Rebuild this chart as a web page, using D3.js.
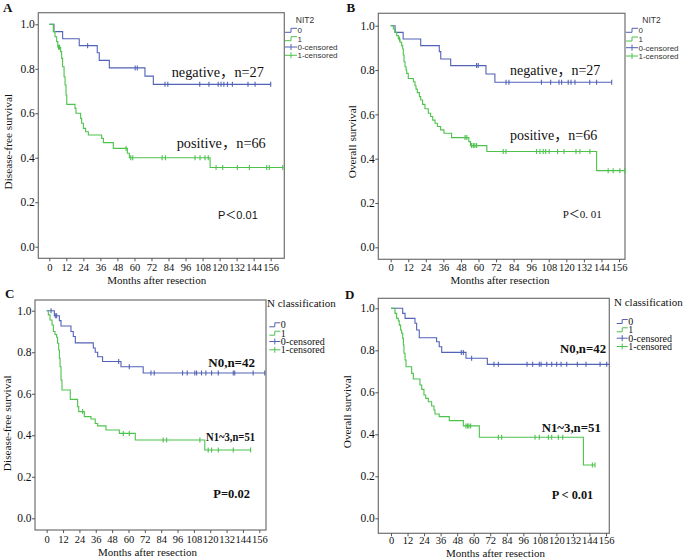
<!DOCTYPE html>
<html><head><meta charset="utf-8">
<script src="https://cdn.jsdelivr.net/npm/d3@7"></script>
<style>body{margin:0;background:#fff}svg{display:block}</style>
</head><body>
<svg id="chart" width="685" height="559"></svg>
<script>
// ---------- shared ticks / labels ----------
const monthTicks = [0,12,24,36,48,60,72,84,96,108,120,132,144,156];
const survivalTicks = [0,0.2,0.4,0.6,0.8,1.0];
const legendLabels = ["0","1","0-censored","1-censored"];

// ---------- Panel A : NIT2, disease-free survival ----------
const aNegMonths = [3.3, 9.4, 21.1, 33.8, 35.2, 42.3, 67.4, 73.3];
const aNegSurv   = [0.967, 0.935, 0.904, 0.872, 0.838, 0.804, 0.767, 0.730];
const aNegCensor = [27, 60.5, 62, 81.5, 83.5, 106, 112.5, 119, 121, 123, 125.5, 129, 140, 145, 156];
const aNegEnd = 156;
const aPosMonths = [2.8, 4, 5.2, 6, 8, 8.7, 9.4, 10.4, 11.1, 11.8, 12.3, 18.1, 18.8, 22.1, 22.8, 24, 25.6, 27.5, 36.9, 38.1, 45.1, 55, 56.4, 113.3];
const aPosSurv   = [0.967, 0.944, 0.922, 0.897, 0.877, 0.847, 0.809, 0.764, 0.727, 0.682, 0.640, 0.622, 0.600, 0.577, 0.555, 0.532, 0.517, 0.502, 0.487, 0.468, 0.442, 0.420, 0.400, 0.356];
const aPosCensor = [6.5, 7.2, 54.1, 57.4, 58.8, 79.5, 81.8, 102.7, 106.2, 109.7, 112, 117.5, 122.2, 132.5, 141, 153.2, 155, 164.5];
const aPosEnd = 165;

// ---------- Panel B : NIT2, overall survival ----------
const bNegMonths = [3, 8.5, 20.5, 33.2, 34.2, 41, 65.1, 71.2];
const bNegSurv   = [0.97, 0.94, 0.91, 0.883, 0.85, 0.82, 0.782, 0.745];
const bNegCensor = [58.7, 59.8, 78.8, 80.8, 103, 109.3, 115, 116.8, 121.3, 123.2, 125.9, 136, 140.7, 151];
const bNegEnd = 151;
const bPosMonths = [1.8, 2.9, 4.1, 5.2, 6.4, 7.5, 8.2, 8.6, 9.1, 9.8, 10.5, 10.9, 12.0, 15.5, 16.6, 17.3, 18.2, 19.6, 20.5, 21.8, 23.4, 25.7, 27.3, 28.7, 30.3, 31.9, 34.1, 36.4, 41.6, 53.4, 54.5, 65.7, 140.7];
const bPosSurv   = [0.985, 0.97, 0.955, 0.94, 0.925, 0.91, 0.895, 0.868, 0.837, 0.815, 0.8, 0.785, 0.762, 0.747, 0.729, 0.714, 0.698, 0.68, 0.665, 0.645, 0.625, 0.605, 0.59, 0.574, 0.56, 0.545, 0.53, 0.515, 0.495, 0.477, 0.459, 0.432, 0.346];
const bPosCensor = [6.0, 50.8, 52, 55.3, 56.5, 57.5, 58.7, 76.9, 78.8, 99.7, 102, 104.2, 105.9, 108.3, 114, 118.4, 126.6, 129.3, 136.1, 148.6, 152, 156.6, 160];
const bPosEnd = 160;

// ---------- Panel C : N classification, disease-free survival ----------
const cNegMonths = [5.6, 9.3, 10.5, 17.8, 19.5, 21, 34.2, 35.6, 37.4, 41, 54.5, 70.8];
const cNegSurv   = [0.976, 0.952, 0.926, 0.9, 0.876, 0.845, 0.82, 0.8, 0.778, 0.755, 0.73, 0.70];
const cNegCensor = [3.2, 6.3, 7.3, 52.8, 60.6, 76.5, 78.9, 99.7, 103.1, 108.7, 110, 113.6, 116.8, 121, 125.9, 136.9, 138, 151.5, 160];
const cNegEnd = 160;
const cPosMonths = [1.2, 2.4, 3.9, 4.9, 6.1, 7.3, 8.0, 8.8, 9.3, 9.8, 10.5, 11.2, 17.3, 22.7, 23.5, 27.6, 32.5, 35.6, 37.4, 43.5, 53.3, 65, 116];
const cPosSurv   = [0.98, 0.955, 0.931, 0.9, 0.885, 0.872, 0.843, 0.811, 0.771, 0.73, 0.666, 0.618, 0.573, 0.538, 0.514, 0.49, 0.478, 0.457, 0.445, 0.425, 0.409, 0.377, 0.329];
const cPosCensor = [26.4, 56.2, 60.6, 85.5, 88, 112.4, 118.5, 121, 125.9, 136.9, 149.6];
const cPosEnd = 149.6;

// ---------- Panel D : N classification, overall survival ----------
const dNegMonths = [8.5, 10.2, 17.4, 18.6, 20.5, 33.1, 35, 36.8, 54.4, 69.9];
const dNegSurv   = [0.976, 0.952, 0.929, 0.897, 0.86, 0.841, 0.817, 0.79, 0.762, 0.733];
const dNegCensor = [51, 52.5, 58.5, 74.7, 77.9, 98.7, 102.8, 107.6, 108.9, 113, 116.6, 120.2, 123.4, 127.5, 135.2, 141.5, 151.7, 156.5];
const dNegEnd = 158.4;
const dPosMonths = [2.9, 4.1, 5.3, 6, 7, 7.7, 8.5, 9, 9.4, 10.2, 10.9, 15, 16.2, 21, 22.3, 23.9, 25.2, 27.1, 29.5, 31.2, 31.9, 35, 42.3, 52.5, 64.1, 139.6];
const dPosSurv   = [0.976, 0.952, 0.941, 0.92, 0.897, 0.881, 0.857, 0.825, 0.786, 0.754, 0.722, 0.69, 0.663, 0.635, 0.614, 0.587, 0.571, 0.555, 0.535, 0.516, 0.497, 0.484, 0.465, 0.44, 0.386, 0.254];
const dPosCensor = [54.4, 55.5, 56.5, 57.8, 77.9, 80.3, 104.5, 107.6, 114.2, 116.6, 121.4, 124.6, 146.1, 148];
const dPosEnd = 148;

// ---------- styling ----------
const SERIF = "'Liberation Serif','Times New Roman',serif";
const SERIF_CJK = "'Liberation Serif','Noto Sans CJK SC',serif";
const SANS = "'Liberation Sans',Arial,sans-serif";
const SANS_CJK = "'Liberation Sans','Noto Sans CJK SC',sans-serif";
const BLUE = "#5262b6";
const GREEN = "#4cc24c";

const panels = [
  {letter:"A", lx:3, ly:11.7, frame:{l:38.3,t:12.7,r:284.3,b:258.3}, x0:49.3, x156:270.7, y1:24.3, y0:246.7, xpad:2,
   yTitle:"Disease-free survival", ytx:8.5, yty:141.7, xtx:156.7, xty:284,
   legend:{style:"sans", title:"NIT2", tx:305, ty:23, sx:285, ys:[33.3,41.7,50,58.3]},
   neg:{m:aNegMonths,s:aNegSurv,c:aNegCensor,end:aNegEnd}, pos:{m:aPosMonths,s:aPosSurv,c:aPosCensor,end:aPosEnd},
   notes:[{t:"negative，n=27",x:171.7,y:77.3,f:SERIF_CJK,size:14.3,w:"normal"},
          {t:"positive，n=66",x:176.7,y:148.3,f:SERIF_CJK,size:14.3,w:"normal"},
          {t:"P＜0.01",x:218,y:219,f:SANS_CJK,size:11,w:"normal"}]},
  {letter:"B", lx:346.5, ly:11.7, frame:{l:378.3,t:13.3,r:625,b:259.3}, x0:390.7, x156:619, y1:25.7, y0:247.3, xpad:1.5,
   yTitle:"Overall survival", ytx:352.5, yty:141.7, xtx:500, xty:284,
   legend:{style:"sans", title:"NIT2", tx:651.5, ty:23, sx:626, ys:[33.3,42,50.7,59]},
   neg:{m:bNegMonths,s:bNegSurv,c:bNegCensor,end:bNegEnd}, pos:{m:bPosMonths,s:bPosSurv,c:bPosCensor,end:bPosEnd},
   notes:[{t:"negative，n=27",x:510,y:75,f:SERIF_CJK,size:14,w:"normal"},
          {t:"positive，n=66",x:510,y:140,f:SERIF_CJK,size:14,w:"normal"},
          {t:"P＜0. 01",x:562.7,y:218.3,f:SERIF_CJK,size:11,w:"normal"}]},
  {letter:"C", lx:5, ly:298, frame:{l:35,t:300,r:266,b:530}, x0:46.7, x156:259.3, y1:310.7, y0:518.3, xpad:2.5,
   yTitle:"Disease-free survival", ytx:7.5, yty:423.3, xtx:147.5, xty:556,
   legend:{style:"serif", title:"N classification", tx:267, ty:306.7, sx:269.3, ys:[328.3,336.7,345,353.3]},
   neg:{m:cNegMonths,s:cNegSurv,c:cNegCensor,end:cNegEnd}, pos:{m:cPosMonths,s:cPosSurv,c:cPosCensor,end:cPosEnd},
   notes:[{t:"N0,n=42",x:208.3,y:366.7,f:SERIF,size:12.8,w:"bold",len:46.7},
          {t:"N1~3,n=51",x:206,y:441,f:SERIF,size:12.8,w:"bold",len:49},
          {t:"P=0.02",x:213.3,y:498.3,f:SERIF,size:12.5,w:"bold"}]},
  {letter:"D", lx:345, ly:299, frame:{l:378.3,t:298.3,r:609.3,b:533.3}, x0:391, x156:606, y1:308.3, y0:518.3, xpad:0.5,
   yTitle:"Overall survival", ytx:347.5, yty:411.7, xtx:495.5, xty:557,
   legend:{style:"serif", title:"N classification", tx:614, ty:306, sx:616.7, ys:[325,333.3,341.7,350]},
   neg:{m:dNegMonths,s:dNegSurv,c:dNegCensor,end:dNegEnd}, pos:{m:dPosMonths,s:dPosSurv,c:dPosCensor,end:dPosEnd},
   notes:[{t:"N0,n=42",x:560,y:352.7,f:SERIF,size:12.8,w:"bold"},
          {t:"N1~3,n=51",x:541.7,y:431.7,f:SERIF,size:12.8,w:"bold"},
          {t:"P < 0.01",x:551.7,y:499,f:SERIF,size:12.3,w:"bold"}]}
];

const svg = d3.select("#chart");
svg.append("rect").attr("width",685).attr("height",559).attr("fill","#fff");

function stepValue(months, surv, t){
  let v = 1;
  for (let i=0;i<months.length;i++){ if (months[i] <= t) v = surv[i]; }
  return v;
}

panels.forEach(p => {
  const g = svg.append("g");
  const f = p.frame;
  const x = d3.scaleLinear().domain([0,156]).range([p.x0, p.x156]);
  const y = d3.scaleLinear().domain([0,1]).range([p.y0, p.y1]);

  // frame
  g.append("rect").attr("x",f.l).attr("y",f.t).attr("width",f.r-f.l).attr("height",f.b-f.t)
    .attr("fill","#fff").attr("stroke","#707070").attr("stroke-width",1.2);

  // axes
  const gy = g.append("g").attr("transform",`translate(${f.l},0)`)
    .call(d3.axisLeft(y).tickValues(survivalTicks).tickFormat(d3.format(".1f")).tickSize(3).tickPadding(0.5));
  gy.select(".domain").remove();
  gy.selectAll("line").attr("stroke","#555");
  gy.selectAll("text").attr("font-family",SERIF).attr("font-size",11.5).attr("fill","#111");

  const gx = g.append("g").attr("transform",`translate(0,${f.b})`)
    .call(d3.axisBottom(x).tickValues(monthTicks).tickFormat(d3.format("d")).tickSize(3).tickPadding(p.xpad));
  gx.select(".domain").remove();
  gx.selectAll("line").attr("stroke","#555");
  gx.selectAll("text").attr("font-family",SERIF).attr("font-size",10.5).attr("fill","#111");

  // axis titles
  g.append("text").attr("x",p.xtx).attr("y",p.xty).attr("text-anchor","middle")
    .attr("font-family",SERIF).attr("font-size",11).attr("fill","#111").text("Months after resection");
  g.append("text").attr("transform",`translate(${p.ytx},${p.yty}) rotate(-90)`).attr("text-anchor","middle")
    .attr("dy","0.35em").attr("font-family",SERIF).attr("font-size",11.3).attr("fill","#111").text(p.yTitle);

  // panel letter
  g.append("text").attr("x",p.lx).attr("y",p.ly).attr("font-family",SERIF).attr("font-weight","bold")
    .attr("font-size",13).attr("fill","#111").text(p.letter);

  // curves
  const line = d3.line().x(d=>x(d[0])).y(d=>y(d[1])).curve(d3.curveStepAfter);
  [[p.neg,BLUE],[p.pos,GREEN]].forEach(([grp,col]) => {
    const pts = [[0,1]].concat(grp.m.map((m,i)=>[m,grp.s[i]]));
    pts.push([grp.end, grp.s[grp.s.length-1]]);
    g.append("path").attr("d",line(pts)).attr("fill","none").attr("stroke",col).attr("stroke-width",1.1);
    g.selectAll(null).data(grp.c).enter().append("line")
      .attr("x1",d=>x(d)).attr("x2",d=>x(d))
      .attr("y1",d=>y(stepValue(grp.m,grp.s,d))-2.5).attr("y2",d=>y(stepValue(grp.m,grp.s,d))+2.5)
      .attr("stroke",col).attr("stroke-width",1.1);
  });

  // annotations
  p.notes.forEach(n => {
    const t = g.append("text").attr("x",n.x).attr("y",n.y).attr("font-family",n.f).attr("font-size",n.size)
      .attr("font-weight",n.w).attr("fill","#111").style("white-space","pre").text(n.t);
    if (n.len) t.attr("textLength",n.len).attr("lengthAdjust","spacingAndGlyphs");
  });

  // legend
  const L = p.legend;
  const cols = [BLUE, GREEN, BLUE, GREEN];
  const sans = L.style === "sans";
  const fs = sans ? 8 : 10;
  const ff = sans ? SANS : SERIF;
  const tcol = sans ? "#333" : "#111";
  g.append("text").attr("x",L.tx).attr("y",L.ty).attr("text-anchor", sans ? "middle" : "start")
    .attr("font-family",ff).attr("font-size", sans ? 8.5 : 11).attr("fill",tcol).text(L.title);
  const sw = sans ? 12 : 11;
  legendLabels.forEach((lab,i) => {
    const yy = L.ys[i];
    const cy = yy - (sans ? 3 : 3.5);
    if (i < 2) {
      g.append("path").attr("d",`M${L.sx},${cy+2}H${L.sx+sw*0.5}V${cy-2}H${L.sx+sw}`)
        .attr("fill","none").attr("stroke",cols[i]).attr("stroke-width",1);
    } else {
      g.append("path").attr("d",`M${L.sx},${cy}H${L.sx+sw}M${L.sx+sw*0.5},${cy-3}V${cy+3}`)
        .attr("fill","none").attr("stroke",cols[i]).attr("stroke-width",1);
    }
    g.append("text").attr("x",L.sx+sw+0.5).attr("y",yy).attr("font-family",ff).attr("font-size",fs)
      .attr("fill",tcol).text(lab);
  });
});
</script>
</body></html>
